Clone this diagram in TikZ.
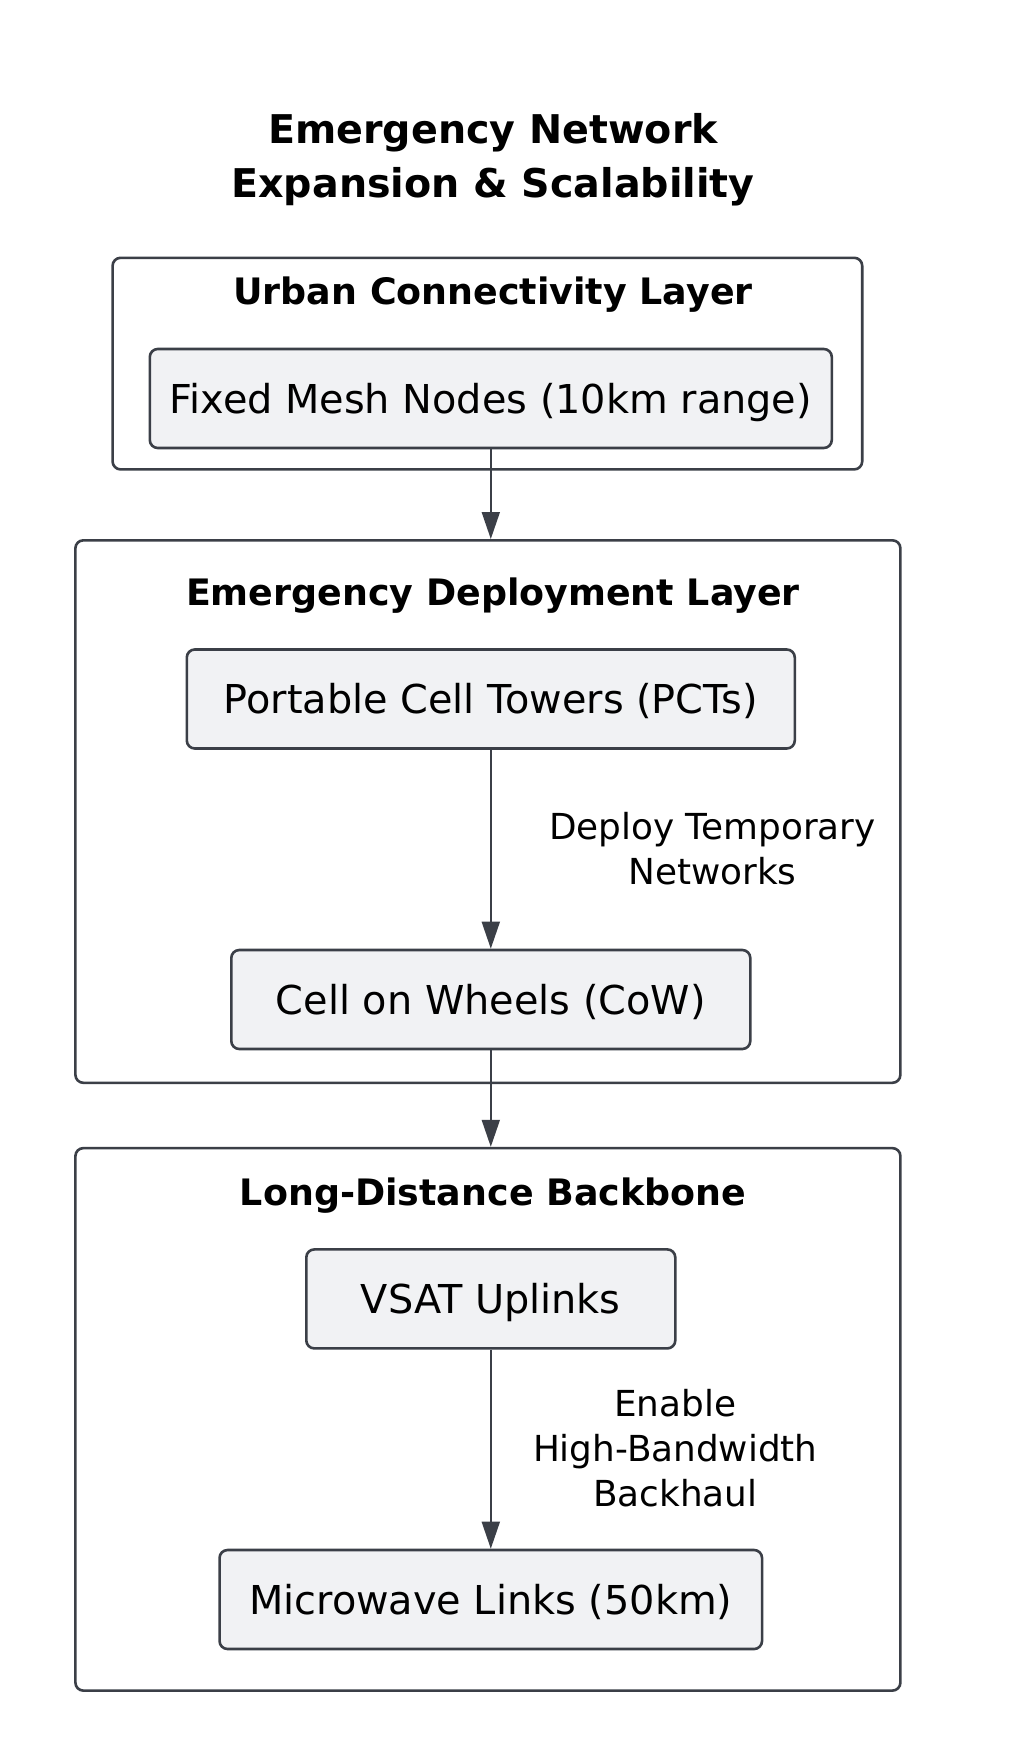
\documentclass[tikz,border=0pt]{standalone}
\usepackage{fontspec}
\setmainfont{DejaVu Sans}
\usetikzlibrary{arrows.meta}
\definecolor{edge}{HTML}{3B3F47}
\definecolor{nodefill}{HTML}{F1F2F4}
\tikzset{
  layerbox/.style={draw=edge, line width=2.6pt, rounded corners=8pt, fill=white, inner sep=0pt},
  procbox/.style={draw=edge, line width=2.6pt, rounded corners=8pt, fill=nodefill, inner sep=0pt, minimum height=99pt, text height=29pt, text depth=0pt, font=\fontsize{39.8}{42}\selectfont},
  layertitle/.style={font=\fontsize{36.4}{42}\selectfont\bfseries},
  maintitle/.style={font=\fontsize{39.6}{54}\selectfont\bfseries, align=center},
  elabel/.style={font=\fontsize{35.8}{45}\selectfont, align=center},
  flow/.style={draw=edge, line width=1.8pt, -{Triangle[length=27pt,width=18pt]}}
}
\begin{document}
\begin{tikzpicture}[x=1pt,y=-1pt]
\useasboundingbox (0,0) rectangle (1013,1764);
\fill[white] (0,0) rectangle (1013,1764);

\node[maintitle] (title) at (493,160) {Emergency Network\\Expansion \& Scalability};

% layer boxes
\node[layerbox, minimum width=749.6pt, minimum height=211.6pt] (urban) at (487.4,363.6) {};
\node[layertitle] (urbant) at (493,295) {Urban Connectivity Layer};
\node[procbox, minimum width=682pt] (fixed) at (490.8,398.5) {Fixed Mesh Nodes (10km range)};

\node[layerbox, minimum width=825pt, minimum height=542.5pt] (emerg) at (487.9,811.55) {};
\node[layertitle] (emergt) at (493,596) {Emergency Deployment Layer};
\node[procbox, minimum width=608pt] (pct) at (490.8,699) {Portable Cell Towers (PCTs)};
\node[procbox, minimum width=519pt] (cow) at (490.8,999.5) {Cell on Wheels (CoW)};

\node[layerbox, minimum width=825pt, minimum height=542.5pt] (back) at (487.9,1419.35) {};
\node[layertitle] (backt) at (493,1196) {Long-Distance Backbone};
\node[procbox, minimum width=369pt] (vsat) at (490.8,1298.9) {VSAT Uplinks};
\node[procbox, minimum width=542.5pt] (micro) at (490.8,1599.5) {Microwave Links (50km)};

% connectors
\draw[flow] (fixed.south) -- (fixed.south |- emerg.north);
\draw[flow] (pct.south) -- (cow.north);
\draw[flow] (cow.south) -- (cow.south |- back.north);
\draw[flow] (vsat.south) -- (micro.north);

\node[elabel] (lab1) at (712.5,848.5) {Deploy Temporary\\Networks};
\node[elabel] (lab2) at (675.3,1448.5) {Enable\\High-Bandwidth\\Backhaul};
\end{tikzpicture}
\end{document}
